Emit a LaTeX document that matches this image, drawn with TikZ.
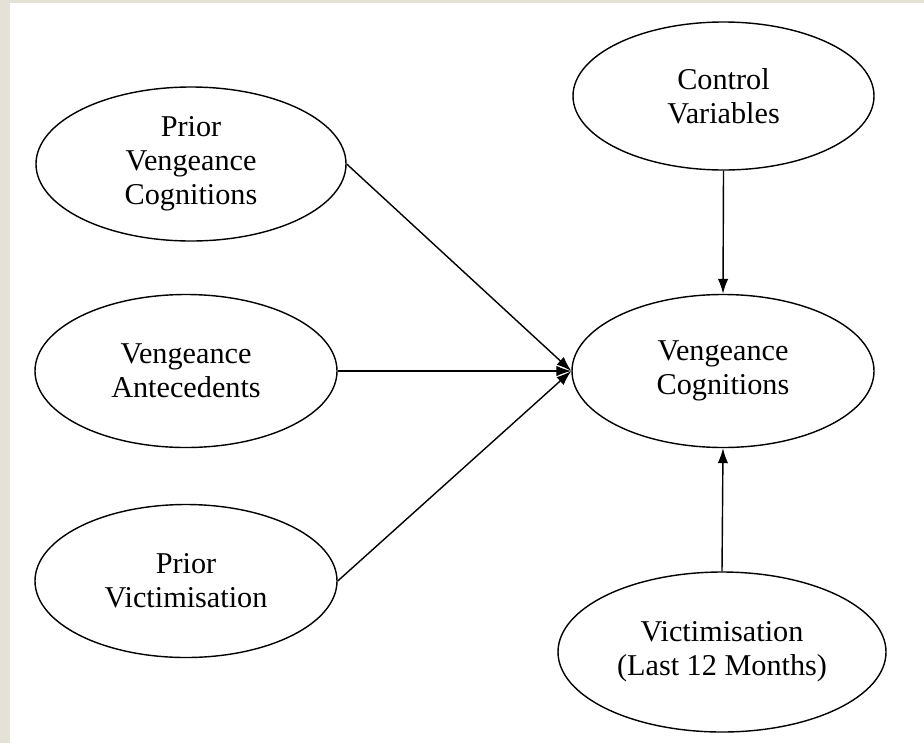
\documentclass[tikz,border=0pt]{standalone}
\usepackage{fontspec}
\setmainfont{Liberation Serif}
\usetikzlibrary{arrows.meta, shapes.geometric}
\definecolor{paper}{RGB}{229,225,215}
\tikzset{
    % Constructs
    varnode/.style={ellipse, draw=black, line width=0.8pt, fill=white, inner sep=0pt,
                 minimum width=6.04cm, minimum height=3.06cm, align=center,
                 font=\fontsize{17.2}{19.4}\selectfont},
    % Paths
    parrow/.style={-{Latex[length=0.3cm, width=0.21cm]}, line width=0.8pt, black},
}
\begin{document}
\begin{tikzpicture}
% page
\fill[paper] (0,0) rectangle (18.48,-14.86);
\fill[white] (0.2,-0.06) rectangle (18.48,-14.86);
\useasboundingbox (0,0) rectangle (18.48,-14.86);

\node[varnode, minimum width=6.2cm, minimum height=3.08cm] (pvc) at (3.82,-3.28) {Prior\\Vengeance\\Cognitions};
\node[varnode] (ante) at (3.72,-7.42) {Vengeance\\Antecedents};
\node[varnode] (pvic) at (3.72,-11.62) {Prior\\Victimisation};
\node[varnode, minimum width=6.02cm, minimum height=2.96cm] (ctrl) at (14.47,-1.92) {Control\\Variables};
\node[varnode] (vc)   at (14.46,-7.42) {Vengeance\\Cognitions};
\node[varnode, minimum width=6.56cm, minimum height=3.2cm] (vict) at (14.44,-13.04) {Victimisation\\(Last 12 Months)};

\draw[parrow] (pvc.east) -- (vc.west);
\draw[parrow] (ante.east) -- (vc.west);
\draw[parrow] (pvic.east) -- (vc.west);
\draw[parrow] (ctrl.south) -- (vc.north);
\draw[parrow] (vict.north) -- (vc.south);
\end{tikzpicture}
\end{document}
